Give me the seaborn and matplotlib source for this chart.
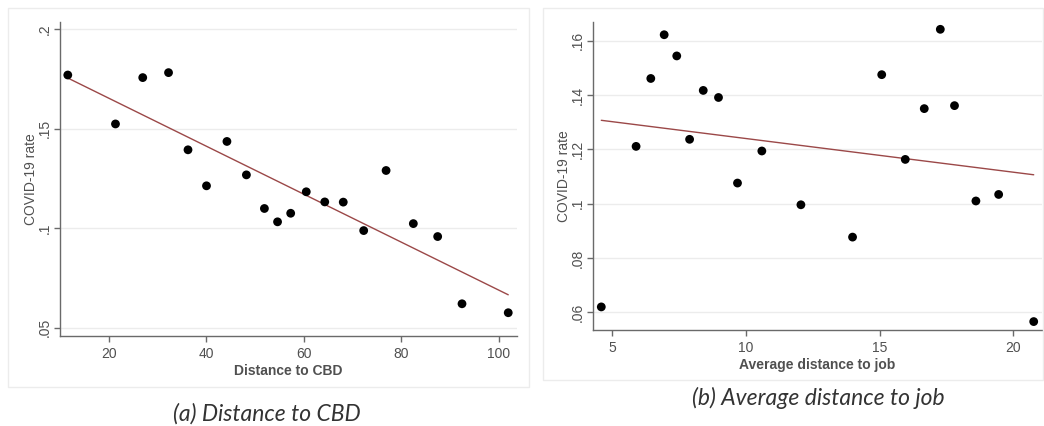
import matplotlib
matplotlib.use("Agg")
import matplotlib.pyplot as plt
import seaborn as sns
import pandas as pd
from matplotlib.patches import Rectangle

# ---- data (a) ----
cbd_distance = [11.5, 21.3, 26.9, 32.2, 36.2, 40.0, 44.2, 48.2, 51.9, 54.6,
                57.3, 60.5, 64.3, 68.1, 72.3, 76.9, 82.5, 87.5, 92.5, 102.0]
cbd_rate = [0.177, 0.1524, 0.1757, 0.1782, 0.1394, 0.1213, 0.1436, 0.1268, 0.1099, 0.1032,
            0.1075, 0.1183, 0.1132, 0.1131, 0.0988, 0.129, 0.1023, 0.0958, 0.062, 0.0575]

# ---- data (b) ----
job_distance = [4.6, 5.9, 6.45, 6.95, 7.42, 7.9, 8.41, 8.98, 9.69, 10.6,
                12.06, 13.99, 15.08, 15.96, 16.67, 17.27, 17.8, 18.6, 19.45, 20.76]
job_rate = [0.062, 0.1211, 0.1461, 0.1622, 0.1544, 0.1237, 0.1417, 0.1391, 0.1076, 0.1194,
            0.0996, 0.0877, 0.1475, 0.1163, 0.135, 0.1642, 0.1361, 0.101, 0.1034, 0.0566]

x_ticks_a = [20, 40, 60, 80, 100]
y_ticks_a = [0.05, 0.1, 0.15, 0.2]
y_labels_a = [".05", ".1", ".15", ".2"]
x_ticks_b = [5, 10, 15, 20]
y_ticks_b = [0.06, 0.08, 0.1, 0.12, 0.14, 0.16]
y_labels_b = [".06", ".08", ".1", ".12", ".14", ".16"]

sns.set_theme(style="white")
plt.rcParams['font.family'] = ['Liberation Sans', 'DejaVu Sans']
SANS = ['Liberation Sans', 'DejaVu Sans']

fig = plt.figure(figsize=(10.44, 4.26), dpi=100)
fig.patch.set_facecolor("white")

# panel borders
fig.patches.append(Rectangle((8/1044, 1-387/426), (529-8)/1044, (387-8)/426,
                             transform=fig.transFigure, fill=False,
                             edgecolor="#ececec", linewidth=1.0))
fig.patches.append(Rectangle((543/1044, 1-380/426), (1043-543)/1044, (380-8)/426,
                             transform=fig.transFigure, fill=False,
                             edgecolor="#ececec", linewidth=1.0))

ax1 = fig.add_axes([60/1044, 1-336/426, (517-60)/1044, (336-21.7)/426])
ax2 = fig.add_axes([593/1044, 1-330/426, (1042-593)/1044, (330-21.7)/426])

df_a = pd.DataFrame({"x": cbd_distance, "y": cbd_rate})
df_b = pd.DataFrame({"x": job_distance, "y": job_rate})

line_col = "#9b4848"
axis_col = "#6a6a6a"
text_col = "#505050"

def style(ax, xticks, yticks, ylabels, xlabel, xlim, ylim):
    ax.set_xlim(*xlim)
    ax.set_ylim(*ylim)
    ax.set_xticks(xticks)
    ax.set_xticklabels([str(t) for t in xticks], fontfamily=SANS)
    ax.set_yticks(yticks)
    ax.set_yticklabels(ylabels, rotation=90, va="center", fontfamily=SANS)
    ax.grid(axis="y", color="#ececec", linewidth=1.0)
    ax.set_axisbelow(True)
    for s in ["top", "right"]:
        ax.spines[s].set_visible(False)
    for s in ["left", "bottom"]:
        ax.spines[s].set_color(axis_col)
        ax.spines[s].set_linewidth(1.0)
    ax.tick_params(axis="both", direction="out", length=4, width=1, color=axis_col,
                   labelsize=10, labelcolor=text_col, left=True, bottom=True)
    ax.tick_params(axis="x", pad=4)
    ax.tick_params(axis="y", pad=2)
    ax.set_xlabel(xlabel, fontsize=10, color=text_col, fontweight="bold", labelpad=2,
                  fontfamily=SANS)
    ax.set_ylabel("COVID-19 rate", fontsize=10, color=text_col, labelpad=0,
                  fontfamily=SANS)

sns.regplot(data=df_a, x="x", y="y", ax=ax1, ci=None,
            scatter_kws=dict(color="black", s=40, edgecolor="none", alpha=1, zorder=3),
            line_kws=dict(color=line_col, linewidth=1.0, zorder=2))
sns.regplot(data=df_b, x="x", y="y", ax=ax2, ci=None,
            scatter_kws=dict(color="black", s=40, edgecolor="none", alpha=1, zorder=3),
            line_kws=dict(color=line_col, linewidth=1.0, zorder=2))

style(ax1, x_ticks_a, y_ticks_a, y_labels_a, "Distance to CBD", (9.9, 103.8), (0.0458, 0.2038))
style(ax2, x_ticks_b, y_ticks_b, y_labels_b, "Average distance to job", (4.29, 21.07), (0.0535, 0.167))

fig.text(267/1044, 1-414/426, "(a) Distance to CBD", ha="center", va="center",
         fontsize=16.5, style="italic", color="#333333", family=["Lato", "DejaVu Sans"])
fig.text(818/1044, 1-398/426, "(b) Average distance to job", ha="center", va="center",
         fontsize=16.5, style="italic", color="#333333", family=["Lato", "DejaVu Sans"])

fig.savefig("out.png", dpi=100, facecolor="white")
